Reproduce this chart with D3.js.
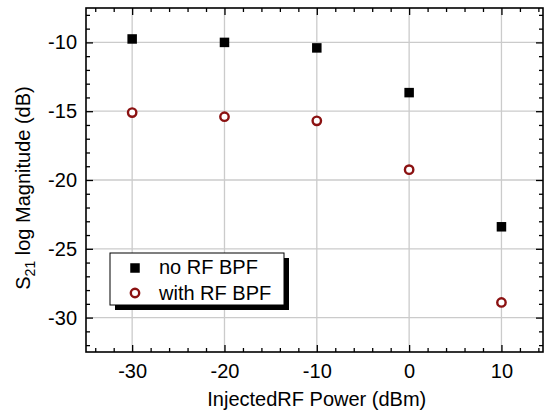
<!DOCTYPE html>
<html>
<head>
<meta charset="utf-8">
<script src="https://cdn.jsdelivr.net/npm/d3@7"></script>
<style>
  body { margin: 0; background: #fff; }
  text { font-family: "Liberation Sans", Arial, sans-serif; }
</style>
</head>
<body>
<div id="chart"></div>
<script>
const powers = [-30, -20, -10, 0, 10];
const noBpf = [-9.75, -10.0, -10.4, -13.65, -23.4];
const withBpf = [-15.1, -15.4, -15.7, -19.25, -28.9];
const seriesNames = ["no RF BPF", "with RF BPF"];
const xTicks = [-30, -20, -10, 0, 10];
const xMinor = d3.range(-34, 15, 2).filter(v => v % 10 !== 0);
const yTicks = [-30, -25, -20, -15, -10];
const yMinor = d3.range(-32, -7, 1).filter(v => v % 5 !== 0);

const W = 545, H = 411;
const margin = { top: 8, right: 2, bottom: 59, left: 86 };
const width = W - margin.left - margin.right;
const height = H - margin.top - margin.bottom;
const circleColor = "#8b1212";

const svg = d3.select("#chart")
  .append("svg")
  .attr("width", W)
  .attr("height", H)
  .append("g")
  .attr("transform", `translate(${margin.left},${margin.top})`);

const x = d3.scaleLinear().domain([-35, 14.5]).range([0, width]);
const y = d3.scaleLinear().domain([-32.5, -7.5]).range([height, 0]);

// plain hyphen minus, like the original
const fmt = d => String(d);

// grid
svg.append("g").selectAll("line")
  .data(xTicks)
  .enter().append("line")
  .attr("x1", d => x(d)).attr("x2", d => x(d))
  .attr("y1", 0).attr("y2", height)
  .attr("stroke", "#cbcbcb").attr("stroke-width", 1.3);
svg.append("g").selectAll("line")
  .data(yTicks)
  .enter().append("line")
  .attr("y1", d => y(d)).attr("y2", d => y(d))
  .attr("x1", 0).attr("x2", width)
  .attr("stroke", "#cbcbcb").attr("stroke-width", 1.3);

// axes, ticks pointing inward on all four sides
function styleAxis(g) {
  g.select(".domain").remove();
  g.selectAll("line").attr("stroke", "#000").attr("stroke-width", 1.3);
  g.selectAll("text")
    .attr("fill", "#000")
    .style("font-size", "20px")
    .style("font-family", "'Liberation Sans', Arial, sans-serif");
}
svg.append("g")
  .attr("transform", `translate(0,${height})`)
  .call(d3.axisBottom(x).tickValues(xTicks).tickSize(-7).tickPadding(12).tickFormat(fmt))
  .call(styleAxis);
svg.append("g")
  .attr("transform", `translate(0,${height})`)
  .call(d3.axisBottom(x).tickValues(xMinor).tickSize(-4).tickFormat(""))
  .call(styleAxis);
svg.append("g")
  .call(d3.axisTop(x).tickValues(xTicks).tickSize(-7).tickFormat(""))
  .call(styleAxis);
svg.append("g")
  .call(d3.axisTop(x).tickValues(xMinor).tickSize(-4).tickFormat(""))
  .call(styleAxis);
svg.append("g")
  .call(d3.axisLeft(y).tickValues(yTicks).tickSize(-7).tickPadding(9).tickFormat(fmt))
  .call(styleAxis);
svg.append("g")
  .call(d3.axisLeft(y).tickValues(yMinor).tickSize(-4).tickFormat(""))
  .call(styleAxis);
svg.append("g")
  .attr("transform", `translate(${width},0)`)
  .call(d3.axisRight(y).tickValues(yTicks).tickSize(-7).tickFormat(""))
  .call(styleAxis);
svg.append("g")
  .attr("transform", `translate(${width},0)`)
  .call(d3.axisRight(y).tickValues(yMinor).tickSize(-4).tickFormat(""))
  .call(styleAxis);

svg.append("rect")
  .attr("x", 0).attr("y", 0)
  .attr("width", width).attr("height", height)
  .attr("fill", "none")
  .attr("stroke", "#000")
  .attr("stroke-width", 1.6);

// axis titles
svg.append("text")
  .attr("x", x(-10))
  .attr("y", height + 54)
  .attr("text-anchor", "middle")
  .style("font-size", "20px")
  .text("InjectedRF Power (dBm)");

const yTitle = svg.append("text")
  .attr("transform", `translate(${-margin.left + 30},${height / 2 + 8}) rotate(-90)`)
  .attr("text-anchor", "middle")
  .style("font-size", "20px");
yTitle.append("tspan").text("S");
yTitle.append("tspan").attr("dy", 5).style("font-size", "14px").text("21");
yTitle.append("tspan").attr("dy", -5).text(" log Magnitude (dB)");

// data
const sq = 9.5;
svg.selectAll(".sq")
  .data(powers.map((p, i) => ({ p, v: noBpf[i] })))
  .enter().append("rect")
  .attr("class", "sq")
  .attr("x", d => x(d.p) - sq / 2)
  .attr("y", d => y(d.v) - sq / 2)
  .attr("width", sq).attr("height", sq)
  .attr("fill", "#000");
svg.selectAll(".circ")
  .data(powers.map((p, i) => ({ p, v: withBpf[i] })))
  .enter().append("circle")
  .attr("class", "circ")
  .attr("cx", d => x(d.p))
  .attr("cy", d => y(d.v))
  .attr("r", 4.2)
  .attr("fill", "#fff")
  .attr("stroke", circleColor)
  .attr("stroke-width", 2.4);

// legend
const legend = svg.append("g").attr("transform", `translate(${110 - margin.left},${253 - margin.top})`);
legend.append("rect")
  .attr("x", 5).attr("y", 5).attr("width", 174).attr("height", 52)
  .attr("fill", "#000");
legend.append("rect")
  .attr("x", 0).attr("y", 0).attr("width", 174).attr("height", 52)
  .attr("fill", "#fff").attr("stroke", "#000").attr("stroke-width", 1);
legend.append("rect")
  .attr("x", 25 - sq / 2).attr("y", 15 - sq / 2)
  .attr("width", sq).attr("height", sq).attr("fill", "#000");
legend.append("circle")
  .attr("cx", 25).attr("cy", 40).attr("r", 4.2)
  .attr("fill", "#fff").attr("stroke", circleColor).attr("stroke-width", 2.4);
seriesNames.forEach((name, i) => {
  legend.append("text")
    .attr("x", 49)
    .attr("y", 21 + i * 26)
    .style("font-size", "20px")
    .text(name);
});
</script>
</body>
</html>
